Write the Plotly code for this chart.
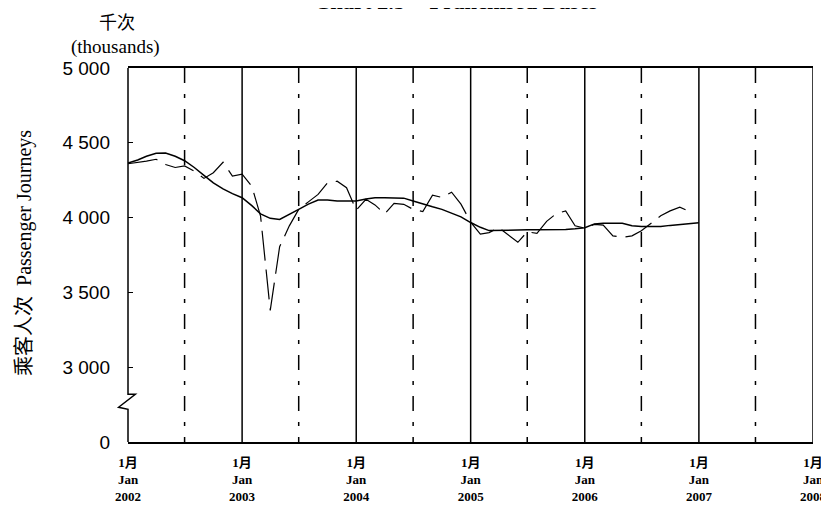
import plotly.graph_objects as go
import pandas as pd

# Trend (thousands), monthly from Jan 2002
trend = [4365, 4385, 4410, 4430, 4432, 4410, 4380, 4335, 4282, 4232, 4192, 4160,
         4133, 4080, 4025, 3995, 3988, 4020, 4055, 4090, 4118, 4118, 4111, 4111,
         4111, 4125, 4133, 4133, 4133, 4130, 4111, 4090, 4072, 4055, 4030, 4005,
         3967, 3935, 3913, 3915, 3918, 3918, 3918, 3918, 3918, 3918, 3920, 3925,
         3932, 3958, 3963, 3963, 3962, 3945, 3940, 3940, 3940, 3948, 3955, 3962,
         3965]

# Seasonally adjusted passenger journeys (thousands), monthly from Jan 2002
seas_adj = [4360, 4368, 4378, 4390, 4355, 4335, 4345, 4310, 4262, 4300, 4370, 4278,
            4290, 4210, 4010, 3380, 3805, 3945, 4055, 4105, 4155, 4232, 4243, 4200,
            4050, 4122, 4085, 4025, 4095, 4089, 4055, 4040, 4150, 4135, 4170, 4090,
            3970, 3890, 3900, 3933, 3885, 3835, 3905, 3895, 3975, 4025, 4045, 3945,
            3930, 3955, 3950, 3878, 3868, 3878, 3912, 3962, 4012, 4045, 4070, 4042]

years = [2002, 2003, 2004, 2005, 2006, 2007, 2008]
y_ticks = [2500, 3000, 3500, 4000, 4500, 5000]
y_tick_text = ["0", "3 000", "3 500", "4 000", "4 500", "5 000"]

months_t = pd.date_range("2002-01-01", periods=len(trend), freq="MS")
months_s = pd.date_range("2002-01-01", periods=len(seas_adj), freq="MS")

fig = go.Figure()
fig.add_trace(go.Scatter(x=months_s, y=seas_adj, mode="lines",
                         line=dict(color="black", width=1.2, dash="30px,9px"),
                         showlegend=False))
fig.add_trace(go.Scatter(x=months_t, y=trend, mode="lines",
                         line=dict(color="black", width=1.5),
                         showlegend=False))

shapes = []
for yr in years[1:]:
    shapes.append(dict(type="line", xref="x", yref="y",
                       x0=f"{yr}-01-01", x1=f"{yr}-01-01", y0=5000, y1=2500,
                       line=dict(color="black", width=1.5)))
for yr in years[:-1]:
    shapes.append(dict(type="line", xref="x", yref="y",
                       x0=f"{yr}-07-01", x1=f"{yr}-07-01", y0=5000, y1=2500,
                       line=dict(color="black", width=1.5, dash="15px,11px,4px,11px")))
# left axis with break
shapes.append(dict(type="path", xref="paper", yref="paper",
                   path="M 0 1 L 0 0.1277 L 0.0107 0.1277 L -0.0137 0.0929 L 0 0.0876 L 0 0",
                   line=dict(color="black", width=1.5)))

fig.update_layout(
    width=829, height=507,
    margin=dict(l=120, r=24, t=60, b=73),
    paper_bgcolor="white", plot_bgcolor="white",
    shapes=shapes,
    xaxis=dict(type="date", range=["2002-01-01", "2008-01-01"],
               tickvals=[f"{y}-01-01" for y in years],
               ticktext=[f"<b>1月<br>Jan<br>{y}</b>" for y in years],
               tickangle=0, automargin=False, ticklabelstandoff=8,
               tickfont=dict(family="Liberation Serif, Noto Sans CJK SC", size=13, color="black"),
               showgrid=False, zeroline=False,
               showline=True, mirror=True, linecolor="black", linewidth=1.5,
               ticks=""),
    yaxis=dict(range=[2500, 5000], tickvals=y_ticks, ticktext=y_tick_text,
               automargin=False, ticklabelstandoff=17,
               tickfont=dict(family="Liberation Sans", size=19, color="black"),
               showgrid=False, zeroline=False, showline=False,
               ticks="inside", ticklen=5, tickcolor="black", tickwidth=1),
    annotations=[
        dict(text="<b>Chart 2.5 -  Franchised Buses</b>", xref="paper", yref="paper",
             x=(456 - 128) / 685, y=439.4 / 373.4, xanchor="center", yanchor="middle",
             showarrow=False, font=dict(family="Liberation Serif", size=22.5, color="black")),
        dict(text="千次", xref="paper", yref="paper",
             x=(117 - 128) / 685, y=(441.7 - 21) / 373.4, xanchor="center", yanchor="middle",
             showarrow=False, font=dict(family="Noto Sans CJK SC", size=18, color="black")),
        dict(text="(thousands)", xref="paper", yref="paper",
             x=(115 - 128) / 685, y=(441.7 - 47) / 373.4, xanchor="center", yanchor="middle",
             showarrow=False, font=dict(family="Liberation Serif", size=19, color="black")),
        dict(text="乘客人次  Passenger Journeys", xref="paper", yref="paper",
             x=(25 - 128) / 685, y=(441.7 - 253) / 373.4, xanchor="center", yanchor="middle",
             textangle=-90, showarrow=False,
             font=dict(family="Liberation Serif, Noto Sans CJK SC", size=20, color="black")),
    ],
)

fig.write_html("out.html")
